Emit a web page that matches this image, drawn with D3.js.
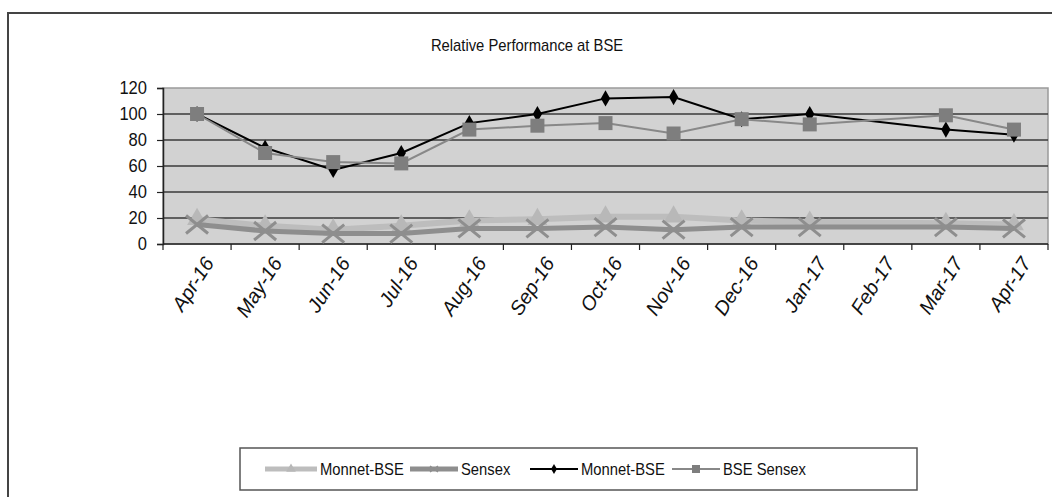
<!DOCTYPE html>
<html><head><meta charset="utf-8">
<script src="https://cdn.jsdelivr.net/npm/d3@7"></script>
<style>
html,body{margin:0;padding:0;background:#fff;overflow:hidden;}
svg{display:block;}
text{font-family:"Liberation Sans",Arial,sans-serif;fill:#111;}
</style></head>
<body>
<svg id="c" width="1052" height="497"></svg>
<script>
const categories = ["Apr-16","May-16","Jun-16","Jul-16","Aug-16","Sep-16","Oct-16","Nov-16","Dec-16","Jan-17","Feb-17","Mar-17","Apr-17"];
const monnetLight = [19,14,11,14,18,19,21,21,18,17,null,16,15];
const sensexThick = [15,10,8,8,12,12,13,11,13,13,null,13,12];
const monnetBSE   = [100,74,57,70,93,100,112,113,96,100,null,88,84];
const bseSensex   = [100,70,63,62,88,91,93,85,96,92,null,99,88];
const yTicks = [0,20,40,60,80,100,120];
const title = "Relative Performance at BSE";
const legendLabels = ["Monnet-BSE","Sensex","Monnet-BSE","BSE Sensex"];

const svg = d3.select("#c");
svg.append("rect").attr("x",8).attr("y",13).attr("width",1100).attr("height",600)
  .attr("fill","none").attr("stroke","#444").attr("stroke-width",2);

const L=163,R=1048,T=88,B=244;
const x = d3.scaleBand().domain(categories).range([L,R]);
const y = d3.scaleLinear().domain([0,120]).range([B,T]);
const SX = 0.87;

svg.append("text").attr("transform",`translate(527,51) scale(${SX},1)`).attr("text-anchor","middle")
  .style("font-size","17px").text(title);

svg.append("rect").attr("x",L).attr("y",T).attr("width",R-L).attr("height",B-T)
  .attr("fill","#d2d2d2").attr("stroke","#9a9a9a").attr("stroke-width",1.5);

svg.append("g").selectAll("line").data(yTicks.filter(d=>d>0&&d<120)).join("line")
  .attr("x1",L).attr("x2",R).attr("y1",d=>y(d)).attr("y2",d=>y(d))
  .attr("stroke","#3a3a3a").attr("stroke-width",1.5);

const ya = svg.append("g").attr("transform",`translate(${L},0)`)
  .call(d3.axisLeft(y).tickValues(yTicks).tickSize(6).tickPadding(10));
ya.select(".domain").attr("stroke","#222").attr("stroke-width",1.5);
ya.selectAll(".tick line").attr("stroke","#222").attr("stroke-width",1.2);
ya.selectAll("text").style("font-size","18px").attr("fill","#111")
  .attr("transform",`scale(0.92,1)`).attr("x",-16/0.92);

const xa = svg.append("g");
const bounds = categories.map(c=>x(c)).concat([R]);
xa.append("line").attr("x1",L).attr("x2",R).attr("y1",B).attr("y2",B).attr("stroke","#222").attr("stroke-width",1.5);
xa.selectAll("line.tk").data(bounds).join("line").attr("class","tk")
  .attr("x1",d=>d).attr("x2",d=>d).attr("y1",B).attr("y2",B+6).attr("stroke","#222").attr("stroke-width",1.2);
xa.selectAll("text").data(categories).join("text")
  .attr("transform",d=>`translate(${x(d)+x.bandwidth()/2+12},259) rotate(-57)`)
  .attr("text-anchor","end").attr("dy","0.35em")
  .style("font-size","20px").style("font-style","italic").text(d=>d);

function pts(arr){return categories.map((c,i)=>({c,v:arr[i]})).filter(d=>d.v!=null);}
const line = d3.line().x(d=>x(d.c)+x.bandwidth()/2).y(d=>y(d.v));
const cx = d=>x(d.c)+x.bandwidth()/2, cy=d=>y(d.v);

const tri = d3.symbol().type(d3.symbolTriangle).size(170);
const dia = d3.symbol().type(d3.symbolDiamond).size(75);

svg.append("path").datum(pts(monnetLight)).attr("d",line).attr("fill","none")
  .attr("stroke","#bdbdbd").attr("stroke-width",6);
svg.append("g").selectAll("path").data(pts(monnetLight)).join("path")
  .attr("d",tri).attr("transform",d=>`translate(${cx(d)},${cy(d)})`).attr("fill","#b8b8b8");
svg.append("path").datum(pts(sensexThick)).attr("d",line).attr("fill","none")
  .attr("stroke","#8e8e8e").attr("stroke-width",5);
const xm = svg.append("g").selectAll("g").data(pts(sensexThick)).join("g")
  .attr("transform",d=>`translate(${cx(d)},${cy(d)})`);
xm.append("path").attr("d","M-11,-9L11,9M-11,9L11,-9").attr("stroke","#8e8e8e").attr("stroke-width",3).attr("fill","none");
svg.append("path").datum(pts(monnetBSE)).attr("d",line).attr("fill","none")
  .attr("stroke","#000").attr("stroke-width",2);
svg.append("g").selectAll("path").data(pts(monnetBSE)).join("path")
  .attr("d",dia).attr("transform",d=>`translate(${cx(d)},${cy(d)})`).attr("fill","#000");
svg.append("path").datum(pts(bseSensex)).attr("d",line).attr("fill","none")
  .attr("stroke","#888").attr("stroke-width",2);
svg.append("g").selectAll("rect").data(pts(bseSensex)).join("rect")
  .attr("x",d=>cx(d)-7).attr("y",d=>cy(d)-7).attr("width",14).attr("height",14).attr("fill","#7e7e7e");

svg.append("rect").attr("x",240).attr("y",448).attr("width",677).attr("height",42)
  .attr("fill","#fff").attr("stroke","#555").attr("stroke-width",1.5);
const ly = 469;
const leg = [
  {x0:265,x1:317,tx:320,stroke:"#bdbdbd",w:5,m:"tri"},
  {x0:410,x1:458,tx:461,stroke:"#8e8e8e",w:5,m:"x"},
  {x0:530,x1:578,tx:581,stroke:"#000",w:2,m:"dia"},
  {x0:672,x1:720,tx:723,stroke:"#888",w:2,m:"sq"}
];
leg.forEach((d,i)=>{
  const g = svg.append("g");
  g.append("line").attr("x1",d.x0).attr("x2",d.x1).attr("y1",ly).attr("y2",ly).attr("stroke",d.stroke).attr("stroke-width",d.w);
  const mx=(d.x0+d.x1)/2;
  if(d.m==="tri") g.append("path").attr("d",d3.symbol().type(d3.symbolTriangle).size(40)).attr("transform",`translate(${mx},${ly})`).attr("fill","#b8b8b8");
  if(d.m==="x") g.append("path").attr("d",`M${mx-4},${ly-3}L${mx+4},${ly+3}M${mx-4},${ly+3}L${mx+4},${ly-3}`).attr("stroke","#8e8e8e").attr("stroke-width",1.5);
  if(d.m==="dia") g.append("path").attr("d",d3.symbol().type(d3.symbolDiamond).size(30)).attr("transform",`translate(${mx},${ly})`).attr("fill","#000");
  if(d.m==="sq") g.append("rect").attr("x",mx-4).attr("y",ly-4).attr("width",8).attr("height",8).attr("fill","#7e7e7e");
  g.append("text").attr("transform",`translate(${d.tx},${ly}) scale(${SX},1)`).attr("dy","0.35em").style("font-size","17px").text(legendLabels[i]);
});
</script>
</body></html>
